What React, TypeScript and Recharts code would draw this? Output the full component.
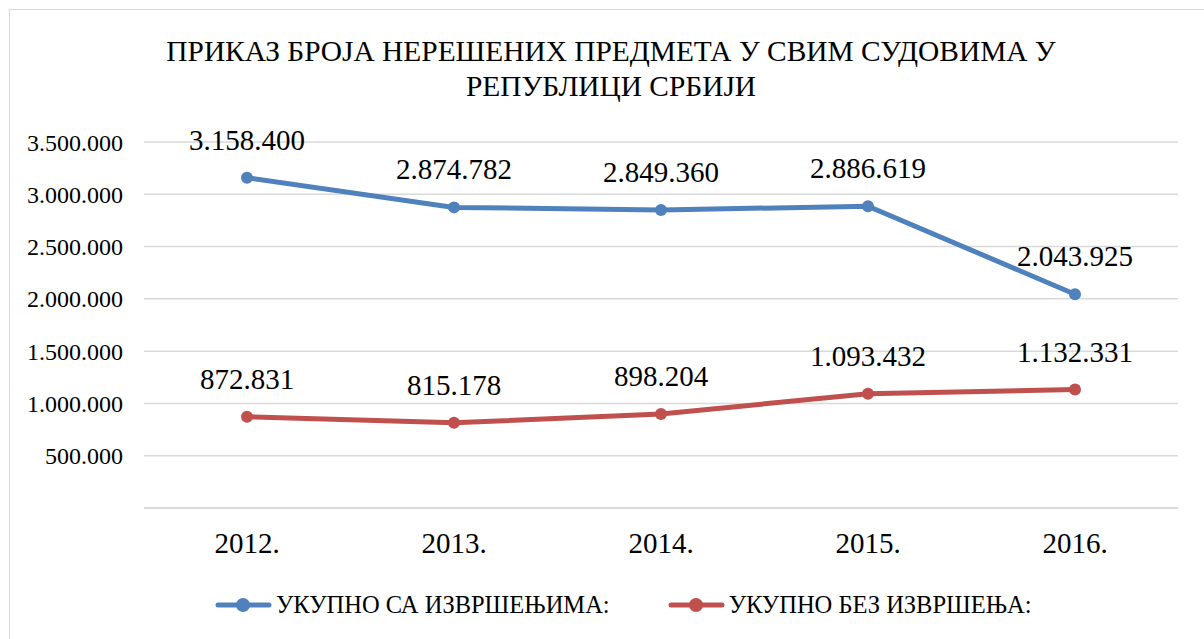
import { LineChart, Line, XAxis, YAxis, CartesianGrid, Legend, LabelList } from 'recharts'

const YEARS = ['2012.', '2013.', '2014.', '2015.', '2016.']
const WITH_ENFORCEMENT = [3158400, 2874782, 2849360, 2886619, 2043925]
const WITHOUT_ENFORCEMENT = [872831, 815178, 898204, 1093432, 1132331]
const Y_TICKS = [0, 500000, 1000000, 1500000, 2000000, 2500000, 3000000, 3500000]

const SERIES_A = 'УКУПНО СА ИЗВРШЕЊИМА:'
const SERIES_B = 'УКУПНО БЕЗ ИЗВРШЕЊА:'
const TITLE_LINES = ['ПРИКАЗ БРОЈА НЕРЕШЕНИХ ПРЕДМЕТА У СВИМ СУДОВИМА У', 'РЕПУБЛИЦИ СРБИЈИ']

const BLUE = '#4F81BD'
const RED = '#C0504D'
const FONT = "'Liberation Serif', 'Times New Roman', serif"

const data = YEARS.map((year, i) => ({
  year,
  a: WITH_ENFORCEMENT[i],
  b: WITHOUT_ENFORCEMENT[i],
}))

const fmt = (v: number) => (v === 0 ? '' : v.toString().replace(/\B(?=(\d{3})+(?!\d))/g, '.'))

function LegendContent() {
  const items = [
    { name: SERIES_A, color: BLUE },
    { name: SERIES_B, color: RED },
  ]
  return (
    <div style={{ display: 'flex', alignItems: 'center', fontFamily: FONT, fontSize: 24.5, color: '#000' }}>
      {items.map((it, i) => (
        <div key={it.name} style={{ display: 'flex', alignItems: 'center', marginLeft: i === 0 ? 0 : 58 }}>
          <svg width={57} height={16} style={{ marginRight: 4 }}>
            <line x1={3} y1={8} x2={54} y2={8} stroke={it.color} strokeWidth={5} strokeLinecap="round" />
            <circle cx={28} cy={8} r={7} fill={it.color} />
          </svg>
          <span>{it.name}</span>
        </div>
      ))}
    </div>
  )
}

export default function App() {
  return (
    <div
      style={{
        position: 'absolute',
        left: 9,
        top: 9,
        width: 1220,
        height: 660,
        border: '1px solid #d9d9d9',
        background: '#fff',
        fontFamily: FONT,
      }}
    >
      <style>{`.recharts-wrapper text, .recharts-legend-wrapper { font-family: ${FONT} !important; }`}</style>
      <div
        style={{
          position: 'absolute',
          left: 0,
          top: 24,
          width: 1202,
          textAlign: 'center',
          fontSize: 29.4,
          lineHeight: '35px',
          color: '#000',
        }}
      >
        {TITLE_LINES.map((l) => (
          <div key={l}>{l}</div>
        ))}
      </div>
      <LineChart
        width={1194}
        height={629}
        data={data}
        margin={{ top: 132, right: 26, left: 0, bottom: 0 }}
        style={{ fontFamily: FONT }}
      >
        <CartesianGrid vertical={false} stroke="#d9d9d9" strokeWidth={1.5} />
        <XAxis
          dataKey="year"
          padding={{ left: 103, right: 103 }}
          axisLine={{ stroke: '#d9d9d9', strokeWidth: 1.5 }}
          tickLine={false}
          tickMargin={18}
          height={91}
          tick={{ fill: '#000', fontSize: 29, fontFamily: FONT }}
        />
        <YAxis
          domain={[0, 3500000]}
          ticks={Y_TICKS}
          tickFormatter={fmt}
          axisLine={false}
          tickLine={false}
          tickMargin={15}
          width={134}
          tick={{ fill: '#000', fontSize: 24, fontFamily: FONT }}
        />
        <Legend
          verticalAlign="bottom"
          height={40}
          content={<LegendContent />}
          wrapperStyle={{ left: 205, width: 'auto', bottom: 8 }}
        />
        <Line
          dataKey="a"
          name={SERIES_A}
          stroke={BLUE}
          strokeWidth={5}
          dot={{ r: 6, fill: BLUE, stroke: BLUE, strokeWidth: 0 }}
          isAnimationActive={false}
        >
          <LabelList dataKey="a" position="top" offset={28} formatter={(v: any) => fmt(Number(v))} style={{ fill: '#000', fontSize: 29, fontFamily: FONT }} />
        </Line>
        <Line
          dataKey="b"
          name={SERIES_B}
          stroke={RED}
          strokeWidth={5}
          dot={{ r: 6, fill: RED, stroke: RED, strokeWidth: 0 }}
          isAnimationActive={false}
        >
          <LabelList dataKey="b" position="top" offset={28} formatter={(v: any) => fmt(Number(v))} style={{ fill: '#000', fontSize: 29, fontFamily: FONT }} />
        </Line>
      </LineChart>
    </div>
  )
}
